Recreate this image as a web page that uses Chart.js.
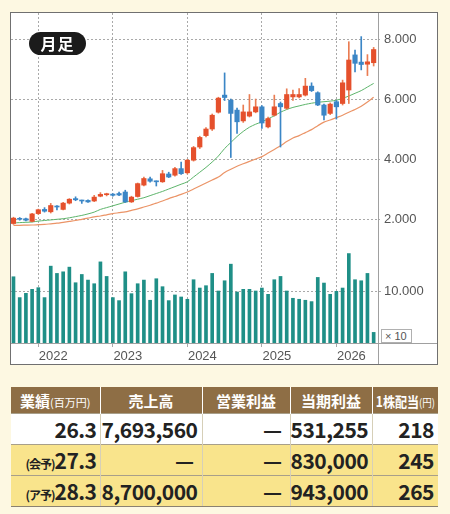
<!DOCTYPE html>
<html>
<head>
<meta charset="utf-8">
<script src="https://cdn.jsdelivr.net/npm/chart.js@4/dist/chart.umd.min.js"></script>
<style>
  html, body { margin: 0; padding: 0; }
  body { width: 450px; height: 514px; background: #fdf8e2; position: relative; overflow: hidden;
         font-family: "Noto Sans CJK JP", "Noto Sans", sans-serif; }
  #chart { position: absolute; left: 0; top: 0; }
  .badge { position: absolute; left: 29px; top: 32px; width: 57px; height: 23px; border-radius: 12px;
           background: #1b1b1b; color: #fff; font-weight: bold; font-size: 16px; line-height: 23px;
           text-align: center; letter-spacing: 1px; }
  .unit { position: absolute; left: 381px; top: 329px; height: 12px; line-height: 12px; padding: 0 4px 0 3px;
          border: 1px solid #b0b0b0; background: #fff; color: #555; font: 11px "Liberation Sans", sans-serif; }
  table { position: absolute; left: 11px; top: 387px; width: 427px; border-collapse: collapse; table-layout: fixed; }
  th { background: #8e6e45; color: #fff; font-weight: bold; font-size: 15px; height: 26px; padding: 0;
       border-left: 1px solid #fff; white-space: nowrap; overflow: hidden; }
  th:first-child { border-left: none; }
  th small { font-size: 11px; font-weight: normal; }
  th .narrow { display: inline-block; font-size: 14px; transform: scaleX(0.86); margin: 0 -5px; }
  td { font-weight: bold; font-size: 21px; text-align: right; padding: 0 4px 0 0; height: 30px; color: #222;
       border-left: 1px solid #d6cfb8; border-top: 1px solid #a89f8a; white-space: nowrap; letter-spacing: -0.5px; }
  td.dash { padding-right: 8px; }
  td:first-child { border-left: none; padding-right: 3px; }
  td small { font-size: 12px; letter-spacing: -1px; }
  tr.fc td { background: #f9e48c; }
  tr.act td { background: #fff; }
  tr:last-child td { border-bottom: 1px solid #8a8170; }
</style>
</head>
<body>
<canvas id="chart" width="450" height="370"></canvas>
<div class="badge">月足</div>
<div class="unit">× 10</div>
<table id="tbl"></table>
<script>
// monthly bars, Sep 2021 - Jul 2026
const months = [
  '2021/09','2021/10','2021/11','2021/12',
  '2022/01','2022/02','2022/03','2022/04','2022/05','2022/06','2022/07','2022/08','2022/09','2022/10','2022/11','2022/12',
  '2023/01','2023/02','2023/03','2023/04','2023/05','2023/06','2023/07','2023/08','2023/09','2023/10','2023/11','2023/12',
  '2024/01','2024/02','2024/03','2024/04','2024/05','2024/06','2024/07','2024/08','2024/09','2024/10','2024/11','2024/12',
  '2025/01','2025/02','2025/03','2025/04','2025/05','2025/06','2025/07','2025/08','2025/09','2025/10','2025/11','2025/12',
  '2026/01','2026/02','2026/03','2026/04','2026/05','2026/06','2026/07'
];
const opens = [1850,2000,2010,1920,2180,2320,2240,2430,2320,2530,2680,2620,2620,2600,2760,2810,2830,2850,2900,2570,
  2750,3130,3340,3260,3240,3500,3460,3680,3540,3960,4400,4780,5000,5560,6130,5960,5630,5270,5430,5570,
  5740,5070,5460,5850,5690,6070,6070,6130,6430,6210,5800,5520,5910,5850,6300,7470,7230,7160,7210];
const closes = [2030,1990,1960,2170,2310,2260,2450,2400,2530,2660,2640,2600,2570,2730,2820,2830,2790,2800,2570,2730,
  3180,3350,3260,3240,3510,3400,3680,3510,3960,4380,4720,5000,5460,6030,6050,5520,5240,5570,5570,5740,
  5200,5350,5740,5740,6150,6150,6150,6430,6280,5800,5460,5830,5740,6540,7300,7190,7150,7240,7650];
const highs = [2060,2050,2030,2190,2330,2380,2520,2450,2560,2680,2740,2630,2640,2790,2880,2860,2850,2900,2960,2760,
  3200,3400,3400,3270,3620,3560,3720,3900,3990,4420,4760,5050,5500,6060,6870,6000,5700,5800,6150,6000,
  5780,5400,6130,5900,6340,6300,6350,6690,6540,6240,5830,5870,5950,6630,7910,7630,8080,7480,7720];
const lows = [1820,1960,1940,1900,2150,2230,2200,2300,2300,2500,2610,2520,2550,2580,2740,2770,2760,2780,2550,2550,
  2730,3100,3230,3100,3220,3380,3430,3490,3500,3930,4350,4740,4950,5530,5950,4050,4850,5220,5400,5540,
  5020,5040,5430,4400,5660,5950,6040,6100,6250,5780,5300,5480,5330,5800,5850,6900,6970,6780,7100];
const volumes = [12740,8730,9550,10320,10640,8730,14780,13380,13690,14590,11590,13180,12100,11400,15600,12800,8730,8150,13690,9490,
  11400,12100,8220,12360,10830,8150,9240,8850,8410,12170,10570,11020,13380,10000,11970,15160,9810,10320,10320,10000,
  10570,9360,12170,12800,10000,8600,8410,8220,7960,12610,11530,9360,9940,10570,17200,12170,11970,13380,2040];
const maShort = [1870,1880,1890,1900,1930,1950,1970,1990,2010,2040,2080,2120,2170,2230,2320,2380,2440,2500,2560,2610,
  2660,2710,2780,2850,2920,3000,3080,3160,3240,3400,3560,3720,3900,4100,4350,4550,4750,4920,5060,5160,
  5240,5340,5440,5560,5650,5720,5770,5820,5860,5890,5910,5930,5960,6020,6100,6190,6280,6400,6520];
const maLong = [1790,1790,1795,1800,1810,1820,1840,1860,1890,1920,1950,1990,2030,2070,2100,2140,2180,2210,2240,2290,
  2340,2400,2460,2530,2600,2680,2750,2820,2900,3000,3100,3200,3300,3400,3550,3660,3760,3840,3920,4000,
  4080,4200,4320,4440,4580,4700,4780,4880,4980,5110,5230,5300,5380,5460,5560,5650,5760,5900,6060];

const yearLabels = ['2022','2023','2024','2025','2026'];
const priceTicks = [2000, 4000, 6000, 8000];
const volumeTicks = [10000];

const tableHead = ['業績<small>(百万円)</small>', '売上高', '営業利益', '当期利益', '1株配当<small>(円)</small>'];
const tableRows = [
  ['26.3', '7,693,560', '—', '531,255', '218'],
  ['<small>(会予)</small>27.3', '—', '—', '830,000', '245'],
  ['<small>(ア予)</small>28.3', '8,700,000', '—', '943,000', '265']
];

// table
const tbl = document.getElementById('tbl');
let html = '<colgroup><col style="width:89px"><col style="width:102px"><col style="width:88px"><col style="width:82px"><col style="width:66px"></colgroup>';
html += '<tr>' + tableHead.map((h, i) => i === 4
  ? '<th><span class="narrow">' + h + '</span></th>'
  : '<th>' + h + '</th>').join('') + '</tr>';
tableRows.forEach((r, i) => {
  html += '<tr class="' + (i === 0 ? 'act' : 'fc') + '">' +
    r.map(c => '<td' + (c === '—' ? ' class="dash"' : '') + '>' + c + '</td>').join('') + '</tr>';
});
tbl.innerHTML = html;

const yearTicks = yearLabels.map(y => months.indexOf(y + '/01'));
const fmt = v => String(v).replace(/\B(?=(\d{3})+(?!\d))/g, '.');

const RED = '#e5502c', BLUE = '#3b86c6';
const isUp = months.map((m, i) => closes[i] >= opens[i]);

const gridColor = '#a9a9a9';
const tickFont = { family: '"Liberation Sans", Arial, sans-serif', size: 13 };

const framePlugin = {
  id: 'frame',
  beforeDraw(chart) {
    const ctx = chart.ctx;
    ctx.save();
    ctx.fillStyle = '#ffffff';
    ctx.fillRect(10, 12, 428, 353);
    ctx.restore();
  },
  beforeDatasetsDraw(chart) {
    // volume axis: grid line + label, placed with the y2 scale
    const { ctx, chartArea, scales } = chart;
    ctx.save();
    ctx.strokeStyle = gridColor;
    ctx.lineWidth = 1;
    ctx.setLineDash([2, 2]);
    ctx.fillStyle = '#555';
    ctx.font = '13px "Liberation Sans", Arial, sans-serif';
    ctx.textBaseline = 'middle';
    volumeTicks.forEach(v => {
      const py = Math.round(scales.y2.getPixelForValue(v)) + 0.5;
      ctx.beginPath();
      ctx.moveTo(chartArea.left, py);
      ctx.lineTo(chartArea.right + 4, py);
      ctx.stroke();
      ctx.fillText(fmt(v), chartArea.right + 6, py);
    });
    ctx.restore();
  },
  afterDraw(chart) {
    const { ctx, chartArea } = chart;
    ctx.save();
    ctx.lineWidth = 1;
    ctx.strokeStyle = '#a0a0a0';
    ctx.beginPath();
    ctx.moveTo(Math.round(chartArea.right) + 0.5, 12);
    ctx.lineTo(Math.round(chartArea.right) + 0.5, 365);
    ctx.moveTo(10, Math.round(chartArea.bottom) + 0.5);
    ctx.lineTo(438, Math.round(chartArea.bottom) + 0.5);
    ctx.stroke();
    ctx.strokeStyle = '#707070';
    ctx.strokeRect(10.5, 12.5, 427, 352);
    ctx.restore();
  }
};

new Chart(document.getElementById('chart'), {
  type: 'bar',
  data: {
    datasets: [
      {
        label: 'body',
        data: months.map((m, i) => ({ x: i, y: [opens[i], closes[i]] })),
        backgroundColor: isUp.map(u => u ? RED : BLUE),
        barThickness: 4.5,
        minBarLength: 1,
        grouped: false,
        order: 1
      },
      {
        label: 'wick',
        data: months.map((m, i) => ({ x: i, y: [lows[i], highs[i]] })),
        backgroundColor: isUp.map(u => u ? '#ea7c52' : BLUE),
        barThickness: 1,
        grouped: false,
        order: 2
      },
      {
        type: 'line',
        label: 'ma short',
        data: months.map((m, i) => ({ x: i, y: maShort[i] })),
        borderColor: '#5db56b',
        borderWidth: 1,
        pointRadius: 0,
        tension: 0.3,
        order: 3
      },
      {
        type: 'line',
        label: 'ma long',
        data: months.map((m, i) => ({ x: i, y: maLong[i] })),
        borderColor: '#eb9467',
        borderWidth: 1.2,
        pointRadius: 0,
        tension: 0.3,
        order: 3
      },
      {
        label: 'volume',
        data: months.map((m, i) => ({ x: i, y: volumes[i] })),
        yAxisID: 'y2',
        backgroundColor: '#1f8f87',
        barThickness: 3,
        grouped: false,
        order: 4
      }
    ]
  },
  options: {
    responsive: false,
    animation: false,
    devicePixelRatio: 1,
    layout: { padding: { left: 11, top: 13, right: 13, bottom: 5 } },
    plugins: { legend: { display: false }, tooltip: { enabled: false } },
    scales: {
      x: {
        type: 'linear',
        min: -0.4,
        max: 58.7,
        offset: false,
        afterBuildTicks: s => { s.ticks = yearTicks.map(v => ({ value: v })); },
        afterFit: s => { s.height = 22; },
        grid: { offset: false, color: gridColor, tickLength: 4, tickColor: gridColor },
        border: { display: false, dash: [2, 2] },
        ticks: {
          callback: (v, idx) => yearLabels[idx],
          labelOffset: 15,
          padding: 2,
          maxRotation: 0,
          autoSkip: false,
          font: tickFont,
          color: '#555'
        }
      },
      y: {
        position: 'right',
        min: -2133,
        max: 8867,
        afterBuildTicks: s => { s.ticks = priceTicks.map(v => ({ value: v })); },
        afterFit: s => { s.width = 59; },
        grid: { color: gridColor, tickLength: 4, tickColor: gridColor, tickBorderDash: [2, 2] },
        border: { display: false, dash: [2, 2] },
        ticks: { padding: 2, autoSkip: false, callback: v => fmt(v), font: tickFont, color: '#555' }
      },
      y2: {
        display: false,
        position: 'right',
        min: 0,
        max: 63462
      }
    }
  },
  plugins: [framePlugin]
});
</script>
</body>
</html>
